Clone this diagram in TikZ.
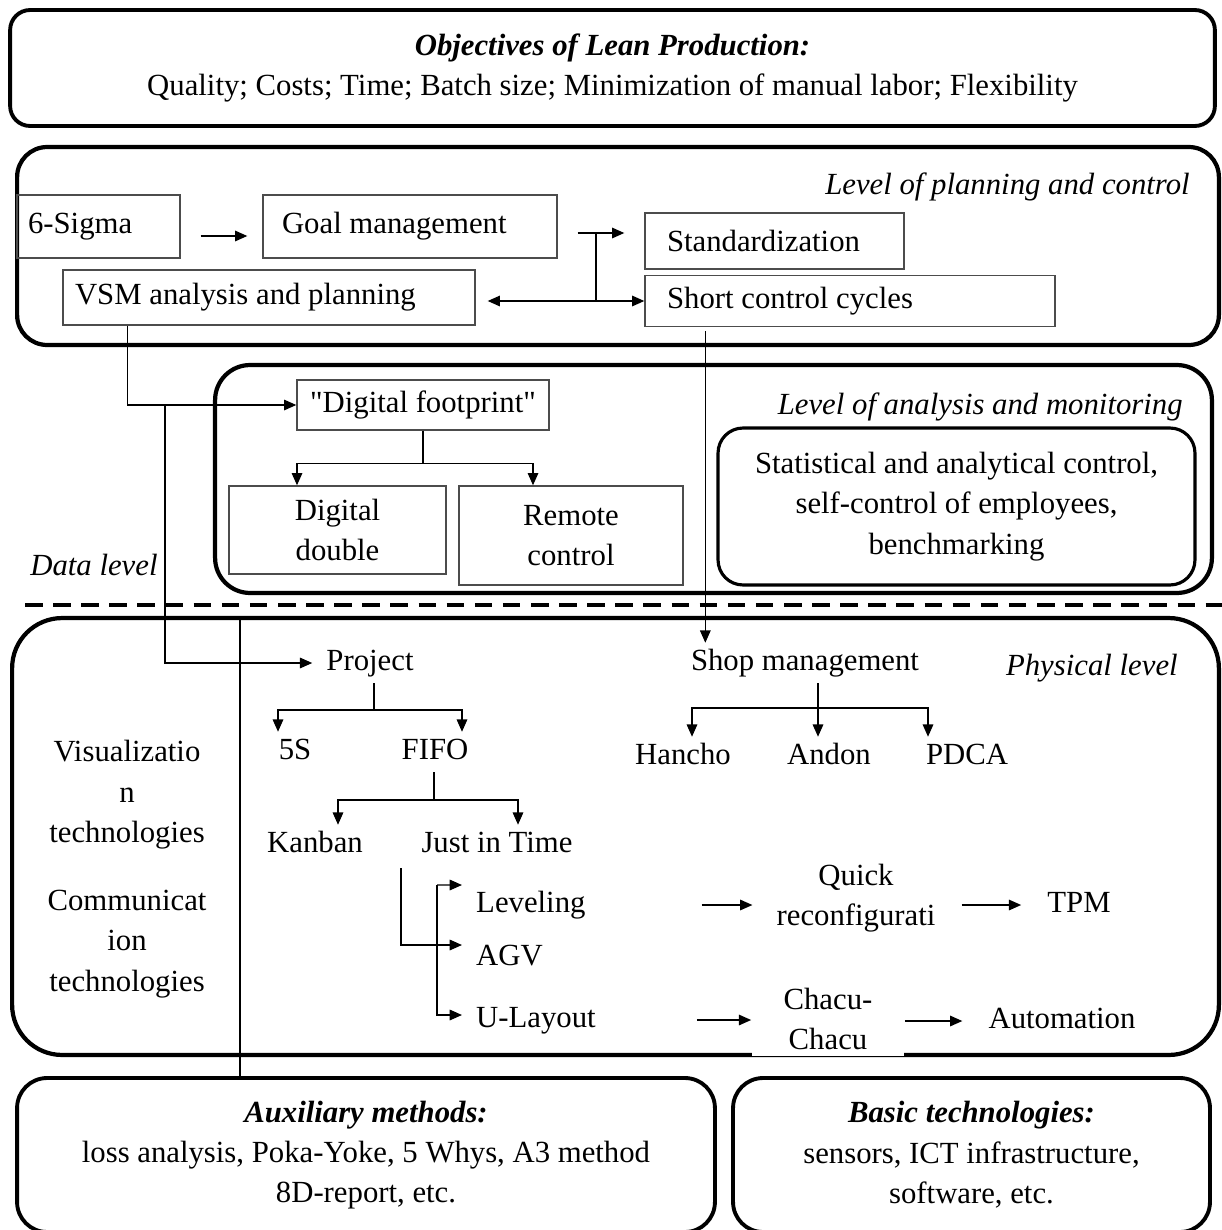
\documentclass[tikz,border=0pt]{standalone}
\usepackage{fontspec}
\setmainfont{Liberation Serif}
\usetikzlibrary{arrows.meta, positioning, calc}
\newcommand{\diagfont}{\fontsize{17.5}{23}\selectfont}
\tikzset{
	level_box/.style={draw=black, line width=2.4pt, rounded corners=0.6cm},
	step_box/.style={draw=black!70, line width=0.8pt, inner xsep=0.22cm, align=flush left},
	sub_box/.style={draw=black!70, line width=0.8pt, align=center},
	info_box/.style={draw=black, line width=2.2pt, rounded corners=0.6cm, align=center},
	level_label/.style={font=\diagfont\itshape, anchor=east, inner sep=0pt},
	item/.style={text height=12pt, text depth=4pt},
	item_multi/.style={align=center},
	arrow_line/.style={-{Triangle[length=7pt,width=6pt]}, line width=0.8pt},
	double_arrow/.style={{Triangle[length=7pt,width=6pt]}-{Triangle[length=7pt,width=6pt]}, line width=0.8pt},
	thin_line/.style={line width=0.6pt},
	data_border/.style={line width=2pt, dash pattern=on 10pt off 6pt}
}

\begin{document}
\begin{tikzpicture}[x=0.02cm, y=-0.02cm, font=\diagfont]
	\useasboundingbox (0,0) rectangle (1222,1230);
	% objectives
	\node[info_box, rounded corners=0.4cm, minimum width=24.1cm, minimum height=2.32cm] (goals) at (612.5,68) {\textbf{\textit{Objectives of Lean Production:}}\\Quality; Costs; Time; Batch size; Minimization of manual labor; Flexibility};

	% level of planning and control
	\node[level_box, minimum width=24.04cm, minimum height=3.96cm] (plan_lvl) at (618,246) {};
	\node[level_label] (plan_lbl) at (1190,187) {Level of planning and control};
	\node[step_box, minimum width=3.26cm, minimum height=1.26cm, text width=2.82cm] (sigma) at (98.5,226.5) {6-Sigma};
	\node[step_box, minimum width=5.88cm, minimum height=1.26cm, inner xsep=0.38cm, text width=5.12cm] (goal) at (410,226.5) {Goal management};
	\node[step_box, minimum width=5.18cm, minimum height=1.12cm, inner xsep=0.44cm, text width=4.30cm] (stand) at (774.5,241) {Standardization};
	\node[step_box, minimum width=8.24cm, minimum height=1.1cm, inner xsep=0.24cm, text width=7.76cm] (vsm) at (269,297.5) {VSM analysis and planning};
	\node[step_box, minimum width=8.2cm, minimum height=1.02cm, inner xsep=0.44cm, text width=7.32cm] (scc) at (850,301) {Short control cycles};

	\coordinate (sg) at ([yshift=-0.19cm]sigma.east);
	\draw[arrow_line, shorten <=0.4cm, shorten >=0.3cm] (sg) -- (sg -| goal.west);
	\coordinate (gtee) at (596,233);
	\draw[arrow_line, shorten <=0.4cm, shorten >=0.4cm] (gtee -| goal.east) -- (gtee -| stand.west);
	\draw[thin_line] (gtee) -- (gtee |- scc.west);
	\draw[double_arrow, shorten <=0.24cm] (vsm.east |- scc.west) -- (scc.west);

	% level of analysis and monitoring
	\node[level_box, rounded corners=0.7cm, minimum width=19.94cm, minimum height=4.56cm] (anal_lvl) at (713.5,479) {};
	\node[level_label] (anal_lbl) at (1183,407) {Level of analysis and monitoring};
	\node[sub_box, minimum width=5.04cm, minimum height=1cm] (foot) at (423,405) {\textquotedbl Digital footprint\textquotedbl};
	\node[sub_box, minimum width=4.34cm, minimum height=1.76cm] (ddouble) at (337.5,530) {Digital\\double};
	\node[sub_box, minimum width=4.48cm, minimum height=1.98cm] (remote) at (571,535.5) {Remote\\control};
	\node[info_box, rounded corners=0.5cm, line width=1.8pt, minimum width=9.54cm, minimum height=3.14cm] (stats) at (956.5,506.5) {Statistical and analytical control,\\self-control of employees,\\benchmarking};

	\coordinate (vsm_out) at ([xshift=1.3cm]vsm.south west);
	\draw[arrow_line] (vsm_out) |- (foot.west);
	\coordinate (foot_fork) at ([yshift=-0.66cm]foot.south);
	\draw[thin_line] (foot.south) -- (foot_fork);
	\draw[arrow_line] (foot_fork) -| ([xshift=-0.81cm]ddouble.north);
	\draw[arrow_line] (foot_fork) -| ([xshift=-0.76cm]remote.north);

	% data level
	\draw[data_border] (25,605) -- (1222,605);
	\node[level_label, anchor=west] (data_lbl) at (30,565) {Data level};

	% physical level
	\node[level_box, rounded corners=1cm, minimum width=24.14cm, minimum height=8.74cm] (phys_lvl) at (615.5,836.5) {};
	\node[level_label] (phys_lbl) at (1178,668) {Physical level};
	\node[item_multi] (visual) at (127,795) {Visualizatio\\n\\technologies};
	\node[item_multi] (comm) at (127,944) {Communicat\\ion\\technologies};

	\node[item] (proj) at (370,663) {Project};
	\node[item] (s5) at (295,752) {5S};
	\node[item] (fifo) at (435,752) {FIFO};
	\node[item] (kanban) at (315,845) {Kanban};
	\node[item] (jit) at (497,845) {Just in Time};
	\node[item, anchor=west] (level) at (470,905) {Leveling};
	\node[item, anchor=west] (agv) at (470,958) {AGV};
	\node[item, anchor=west] (ulay) at (470,1020) {U-Layout};

	\node[item] (shop) at (805,663) {Shop management};
	\node[item] (hancho) at (683,757) {Hancho};
	\node[item] (andon) at (829,757) {Andon};
	\node[item] (pdca) at (967,757) {PDCA};
	\node[item_multi] (quick) at (856,898) {Quick\\reconfigurati};
	\node[item] (tpm) at (1079,905) {TPM};
	\node[item_multi, fill=white, minimum width=3.06cm] (chacu) at (828,1019) {Chacu-\\Chacu};
	\node[item] (autom) at (1062,1021) {Automation};

	% bottom blocks
	\node[info_box, minimum width=13.96cm, minimum height=3.08cm] (aux) at (366,1155) {\textbf{\textit{Auxiliary methods:}}\\loss analysis, Poka-Yoke, 5 Whys, A3 method\\8D-report, etc.};
	\node[info_box, minimum width=9.54cm, minimum height=3.08cm] (basic) at (971.5,1155) {\textbf{\textit{Basic technologies:}}\\sensors, ICT infrastructure,\\software, etc.};

	% links across the levels
	\coordinate (dfork) at (165,405);
	\draw[arrow_line, shorten >=0.16cm] (dfork) |- (proj.west);
	\coordinate (aux_drop) at (240,618);
	\draw[thin_line] (aux_drop) -- (aux_drop |- aux.north);
	\coordinate (scc_out) at ([xshift=1.22cm]scc.south west);
	\draw[arrow_line, shorten <=0.08cm] (scc_out) -- (scc_out |- shop.north);

	% project tree
	\coordinate (proj_fork) at (374,710);
	\draw[arrow_line] (proj.south -| proj_fork) -- (proj_fork) -| ([xshift=-0.34cm]s5.north);
	\draw[arrow_line] (proj_fork) -| ([xshift=0.54cm]fifo.north);
	\coordinate (fifo_fork) at (434,800);
	\draw[arrow_line] (fifo.south -| fifo_fork) -- (fifo_fork) -| ([xshift=0.46cm]kanban.north);
	\draw[arrow_line] (fifo_fork) -| ([xshift=0.42cm]jit.north);
	\coordinate (jit_drop) at (401,868);
	\coordinate (lay_top) at (437,885);
	\draw[arrow_line, shorten >=0.16cm] (jit_drop) |- ([yshift=0.26cm]agv.west);
	\draw[arrow_line, shorten >=0.16cm] (lay_top) -- ([yshift=0.4cm]level.west);
	\draw[arrow_line, shorten >=0.16cm] (lay_top) |- ([yshift=0.1cm]ulay.west);

	% shop tree
	\coordinate (shop_fork) at (818,708);
	\draw[arrow_line] (shop.south -| shop_fork) -- (shop_fork |- andon.north);
	\draw[arrow_line] (shop_fork) -| ([xshift=0.18cm]hancho.north);
	\draw[arrow_line] (shop_fork) -| ([xshift=-0.78cm]pdca.north);

	% chains
	\draw[arrow_line, shorten <=2.2cm, shorten >=0.36cm] (level.east) -- (level.east -| quick.west);
	\draw[arrow_line, shorten <=0.4cm, shorten >=0.4cm] (quick.east |- tpm.west) -- (tpm.west);
	\draw[arrow_line, shorten <=1.9cm] (ulay.east) -- (ulay.east -| chacu.west);
	\draw[arrow_line, shorten >=0.4cm] (chacu.east |- autom.west) -- (autom.west);
\end{tikzpicture}
\end{document}
